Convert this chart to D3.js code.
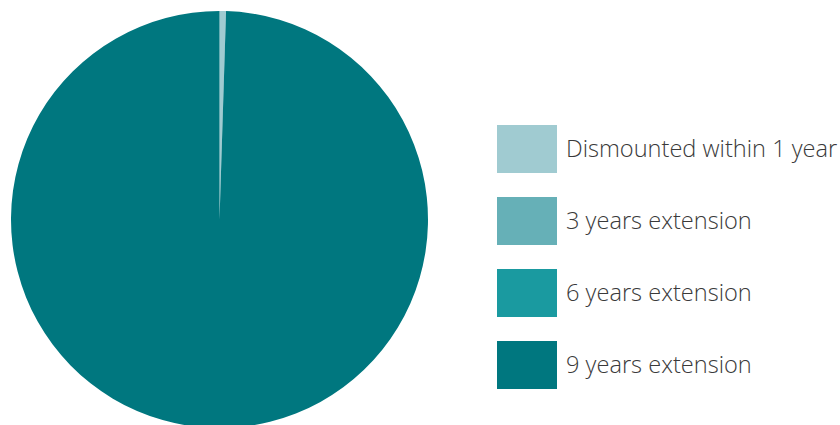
<!DOCTYPE html>
<html>
<head>
<meta charset="utf-8">
<script src="https://cdn.jsdelivr.net/npm/d3@7"></script>
<style>
  body { margin: 0; background: #fff; }
</style>
</head>
<body>
<div id="chart"></div>
<script>
const categories = ["Dismounted within 1 year", "3 years extension", "6 years extension", "9 years extension"];
const shares = [0.5, 0, 0, 99.5];
const colors = ["#a0cbd1", "#66b0b7", "#1a9aa0", "#00777f"];

const width = 840, height = 425;
const cx = 219.5, cy = 219.5, radius = 208.5;

const svg = d3.select("#chart")
    .append("svg")
    .attr("width", width)
    .attr("height", height);

const data = categories.map((c, i) => ({ name: c, value: shares[i], color: colors[i] }));

const pie = d3.pie().sort(null).value(d => d.value);
const arc = d3.arc().innerRadius(0).outerRadius(radius);

svg.append("g")
    .attr("transform", `translate(${cx},${cy})`)
    .selectAll("path")
    .data(pie(data).filter(d => d.data.value > 0))
    .enter().append("path")
    .attr("d", arc)
    .attr("fill", d => d.data.color);

// legend
const legend = svg.append("g")
    .attr("transform", "translate(497,125)");

const item = legend.selectAll("g")
    .data(data)
    .enter().append("g")
    .attr("transform", (d, i) => `translate(0,${i * 72})`);

item.append("rect")
    .attr("width", 60)
    .attr("height", 48)
    .attr("fill", d => d.color);

item.append("text")
    .attr("x", 69)
    .attr("y", 24)
    .attr("dy", "0.35em")
    .attr("font-family", "Open Sans, sans-serif")
    .attr("font-weight", 300)
    .attr("font-size", 23.6)
    .attr("fill", "#3a3a3a")
    .text(d => d.name);
</script>
</body>
</html>
